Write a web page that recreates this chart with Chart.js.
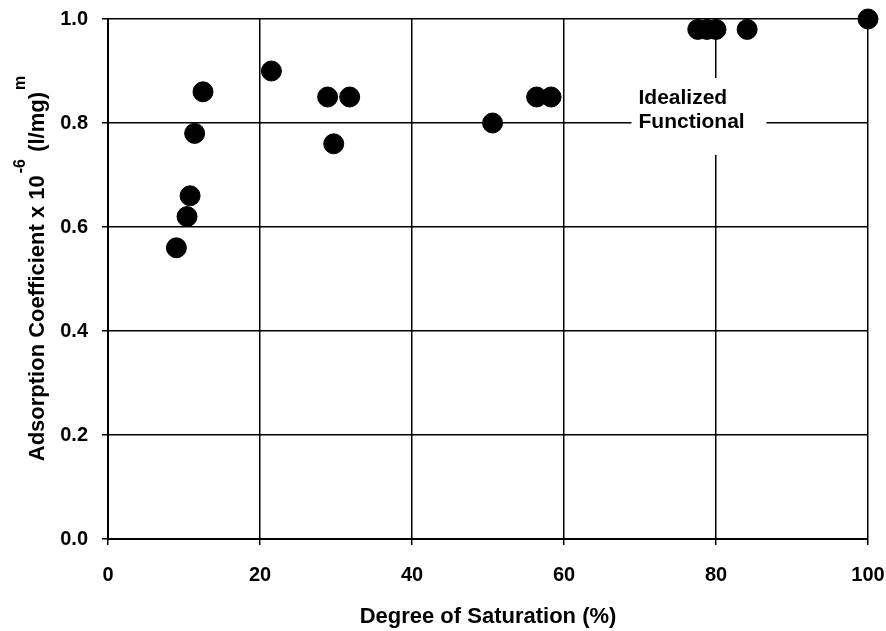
<!DOCTYPE html>
<html>
<head>
<meta charset="utf-8">
<script src="https://cdn.jsdelivr.net/npm/chart.js@4.4.1/dist/chart.umd.min.js"></script>
<style>
  html, body { margin: 0; padding: 0; background: #fff; }
  #wrap { width: 886px; height: 631px; }
</style>
</head>
<body>
<div id="wrap"><canvas id="chart" width="886" height="631"></canvas></div>
<script>
// Degree of saturation (%) vs adsorption coefficient
const saturation  = [9.0, 10.4, 10.8, 11.4, 12.5, 21.5, 28.9, 29.7, 31.8, 50.6, 56.4, 58.3, 77.6, 78.8, 80.0, 84.1, 100];
const coefficient = [0.56, 0.62, 0.66, 0.78, 0.86, 0.90, 0.85, 0.76, 0.85, 0.80, 0.85, 0.85, 0.98, 0.98, 0.98, 0.98, 1.0];

const xTicks = [0, 20, 40, 60, 80, 100];
const yTicks = [0.0, 0.2, 0.4, 0.6, 0.8, 1.0];

const xTitle = "Degree of Saturation (%)";
const noteLines = ["Idealized", "Functional"];
const noteAt = { x: 69.8, y: 0.848 };

const FONT = "'Liberation Sans', Arial, sans-serif";

// y title has superscripts, so draw it by hand
const yTitlePlugin = {
  id: 'yTitle',
  afterDraw(chart) {
    const ctx = chart.ctx;
    const parts = [
      { t: "Adsorption Coefficient x 10", sup: false },
      { t: "-6", sup: true },
      { t: " (l/mg)", sup: false },
      { t: "m", sup: true }
    ];
    const big = "bold 22px " + FONT, small = "bold 16px " + FONT;
    ctx.save();
    let total = 0;
    parts.forEach(p => { ctx.font = p.sup ? small : big; p.w = ctx.measureText(p.t).width + (p.sup ? 3 : 0); total += p.w; });
    ctx.translate(38, 268);
    ctx.rotate(-Math.PI / 2);
    ctx.fillStyle = '#000';
    ctx.textBaseline = 'middle';
    let x = -total / 2;
    parts.forEach(p => {
      ctx.font = p.sup ? small : big;
      ctx.fillText(p.t, x + (p.sup ? 2 : 0), p.sup ? -17 : 0);
      x += p.w;
    });
    ctx.restore();
  }
};

// "Idealized Functional" note with white box over the grid
const notePlugin = {
  id: 'note',
  beforeDatasetsDraw(chart) {
    const ctx = chart.ctx;
    const px = chart.scales.x.getPixelForValue(noteAt.x);
    const py = chart.scales.y.getPixelForValue(noteAt.y);
    ctx.save();
    ctx.fillStyle = '#fff';
    ctx.fillRect(px - 7, py - 20, 135, 77);
    ctx.fillStyle = '#000';
    ctx.font = "bold 21px " + FONT;
    ctx.textBaseline = 'middle';
    noteLines.forEach((s, i) => ctx.fillText(s, px, py + i * 24));
    ctx.restore();
  }
};

new Chart(document.getElementById('chart'), {
  type: 'scatter',
  data: {
    datasets: [{
      data: saturation.map((x, i) => ({ x: x, y: coefficient[i] })),
      backgroundColor: '#000',
      borderColor: '#000',
      borderWidth: 1,
      pointRadius: 10,
      pointHoverRadius: 10,
      clip: false
    }]
  },
  options: {
    responsive: false,
    animation: false,
    layout: { padding: { top: 19, right: 18, left: 0, bottom: 0 } },
    plugins: { legend: { display: false }, tooltip: { enabled: false } },
    scales: {
      x: {
        type: 'linear', min: 0, max: 100,
        afterBuildTicks: s => { s.ticks = xTicks.map(v => ({ value: v })); },
        afterFit: s => { s.height = 92; s.paddingLeft = 0; s.paddingRight = 0; },
        grid: { color: '#000', lineWidth: 1.5, tickLength: 6 },
        border: { color: '#000', width: 2 },
        ticks: { color: '#000', font: { family: FONT, size: 20, weight: 'bold' }, padding: 18, maxRotation: 0 },
        title: { display: true, text: xTitle, color: '#000', font: { family: FONT, size: 22, weight: 'bold' }, padding: { top: 0, bottom: 1 } }
      },
      y: {
        type: 'linear', min: 0, max: 1,
        afterBuildTicks: s => { s.ticks = yTicks.map(v => ({ value: v })); },
        afterFit: s => { s.width = 108; s.paddingTop = 0; s.paddingBottom = 0; },
        grid: { color: '#000', lineWidth: 1.5, tickLength: 6 },
        border: { color: '#000', width: 2 },
        ticks: { color: '#000', font: { family: FONT, size: 20, weight: 'bold' }, padding: 14, callback: v => v.toFixed(1) }
      }
    }
  },
  plugins: [notePlugin, yTitlePlugin]
});
</script>
</body>
</html>
